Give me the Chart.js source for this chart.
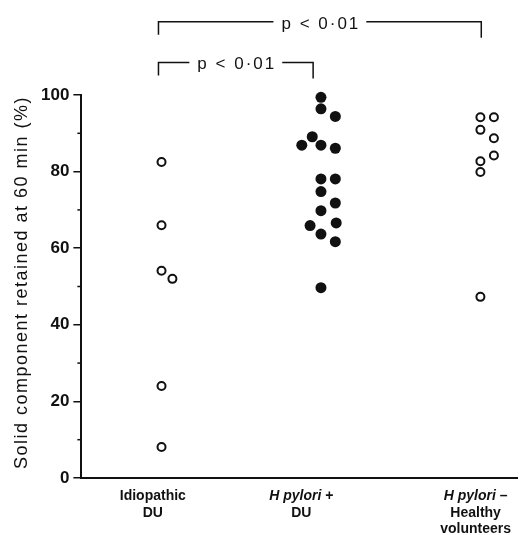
<!DOCTYPE html>
<html>
<head>
<meta charset="utf-8">
<script src="https://cdn.jsdelivr.net/npm/chart.js@4"></script>
<style>
  body { margin: 0; background: #fff; }
</style>
</head>
<body>
<canvas id="retentionChart" width="523" height="535"></canvas>
<script>
// groups along the x axis (x scale runs 0-100)
const groupNames = [['Idiopathic', 'DU'], ['H pylori +', 'DU'], ['H pylori –', 'Healthy', 'volunteers']];
const groupPos = [16.4, 50.5, 90.5];

// solid component retained at 60 min (%), and the column each dot sits in
const idiopathicY = [82.5, 66, 54.1, 52, 24, 8.1];
const idiopathicX = [18.4, 18.4, 18.4, 20.9, 18.4, 18.4];
const pyloriY = [99.4, 96.4, 94.4, 89.1, 86.9, 86.9, 86.1, 78.1, 78.1, 74.8, 71.8, 69.8, 65.9, 66.6, 63.7, 61.7, 49.7];
const pyloriX = [55, 55, 58.3, 53, 50.6, 55, 58.3, 55, 58.3, 55, 58.3, 55, 52.5, 58.5, 55, 58.3, 55];
const healthyY = [94.2, 94.2, 90.9, 88.7, 84.2, 82.7, 79.9, 47.3];
const healthyX = [91.6, 94.7, 91.6, 94.7, 94.7, 91.6, 91.6, 91.6];

const yTicks = [0, 20, 40, 60, 80, 100];
const yMinorTicks = [10, 30, 50, 70, 90];

// significance brackets
const bracketFrom = [17.7, 17.7];
const bracketTo = [53.2, 91.8];
const bracketLevel = [108.5, 119.1];
const bracketText = ['p < 0·01', 'p < 0·01'];

const ink = '#111';
const sans = '"Liberation Sans", Arial, Helvetica, sans-serif';

function pairs(xs, ys) {
    return ys.map((y, i) => ({ x: xs[i], y: y }));
}

// minor ticks, brackets, axis title and the mixed italic group labels
const annotate = {
    id: 'annotate',
    afterDraw(chart) {
        const { ctx, chartArea, scales: { x, y } } = chart;
        ctx.save();
        ctx.strokeStyle = ink;
        ctx.fillStyle = ink;

        ctx.lineWidth = 1.5;
        yMinorTicks.forEach(v => {
            const py = y.getPixelForValue(v);
            ctx.beginPath();
            ctx.moveTo(chartArea.left - 4, py);
            ctx.lineTo(chartArea.left, py);
            ctx.stroke();
        });

        ctx.font = '17px ' + sans;
        ctx.letterSpacing = '2px';
        ctx.textAlign = 'center';
        ctx.textBaseline = 'middle';
        bracketText.forEach((t, i) => {
            const x1 = x.getPixelForValue(bracketFrom[i]);
            const x2 = x.getPixelForValue(bracketTo[i]);
            const py = y.getPixelForValue(bracketLevel[i]);
            const mid = (x1 + x2) / 2;
            const half = ctx.measureText(t).width / 2 + 7;
            ctx.beginPath();
            ctx.moveTo(x1, py + 13);
            ctx.lineTo(x1, py);
            ctx.lineTo(mid - half, py);
            ctx.moveTo(mid + half, py);
            ctx.lineTo(x2, py);
            ctx.lineTo(x2, py + 16);
            ctx.stroke();
            ctx.fillText(t, mid + 1, py + 2);
        });

        ctx.save();
        ctx.translate(22, (chartArea.top + chartArea.bottom) / 2 - 4);
        ctx.rotate(-Math.PI / 2);
        ctx.font = '18px ' + sans;
        ctx.letterSpacing = '1.5px';
        ctx.fillText('Solid component retained at 60 min (%)', 0, 0);
        ctx.restore();

        ctx.letterSpacing = '0px';
        ctx.textAlign = 'left';
        ctx.textBaseline = 'alphabetic';
        groupNames.forEach((lines, i) => {
            const cx = x.getPixelForValue(groupPos[i]);
            lines.forEach((line, k) => {
                const parts = line.startsWith('H pylori')
                    ? [['italic bold ', 'H pylori'], ['bold ', line.slice(8)]]
                    : [['bold ', line]];
                let w = 0;
                parts.forEach(p => { ctx.font = p[0] + '14px ' + sans; w += ctx.measureText(p[1]).width; });
                let px = cx - w / 2;
                const py = chartArea.bottom + 22 + k * 16.5;
                parts.forEach(p => {
                    ctx.font = p[0] + '14px ' + sans;
                    ctx.fillText(p[1], px, py);
                    px += ctx.measureText(p[1]).width;
                });
            });
        });
        ctx.restore();
    }
};

new Chart(document.getElementById('retentionChart'), {
    type: 'scatter',
    data: {
        datasets: [{
            label: 'Idiopathic DU',
            data: pairs(idiopathicX, idiopathicY),
            pointRadius: 4,
            borderWidth: 2,
            borderColor: ink,
            backgroundColor: '#fff',
            clip: false
        }, {
            label: 'H pylori + DU',
            data: pairs(pyloriX, pyloriY),
            pointRadius: 5.5,
            borderWidth: 0,
            backgroundColor: ink,
            clip: false
        }, {
            label: 'H pylori – healthy volunteers',
            data: pairs(healthyX, healthyY),
            pointRadius: 4,
            borderWidth: 2,
            borderColor: ink,
            backgroundColor: '#fff',
            clip: false
        }]
    },
    options: {
        responsive: false,
        animation: false,
        layout: { padding: { top: 95, right: 3, bottom: 57, left: 37 } },
        plugins: {
            legend: { display: false },
            tooltip: { enabled: false }
        },
        scales: {
            x: {
                type: 'linear',
                min: 0,
                max: 100,
                grid: { display: false, drawTicks: false },
                border: { color: ink, width: 2 },
                ticks: { display: false }
            },
            y: {
                min: 0,
                max: 100,
                afterBuildTicks: scale => { scale.ticks = yTicks.map(v => ({ value: v })); },
                grid: { drawOnChartArea: false, tickLength: 8, color: ink, lineWidth: 1.5 },
                border: { color: ink, width: 2 },
                ticks: {
                    color: ink,
                    padding: 4,
                    font: { family: sans, size: 17, weight: 'bold' }
                }
            }
        }
    },
    plugins: [annotate]
});
</script>
</body>
</html>
